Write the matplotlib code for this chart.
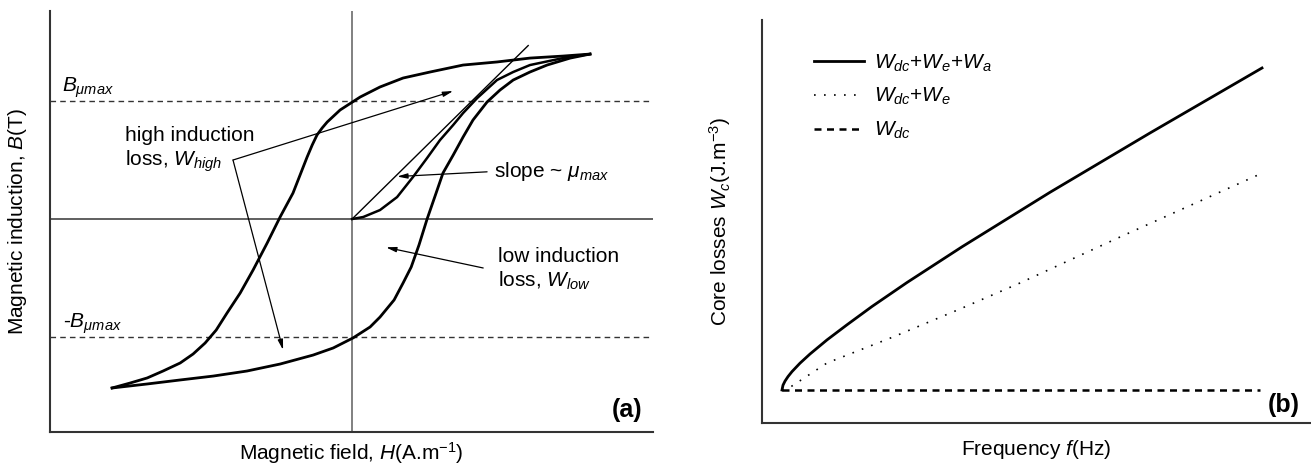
import matplotlib
matplotlib.use("Agg")
import matplotlib.pyplot as plt

plt.rcParams['font.family'] = ['Liberation Sans', 'DejaVu Sans']
plt.rcParams['mathtext.fontset'] = 'custom'
plt.rcParams['mathtext.rm'] = 'Liberation Sans'
plt.rcParams['mathtext.it'] = 'Liberation Sans:italic'
plt.rcParams['mathtext.bf'] = 'Liberation Sans:bold'

# (a) hysteresis loop, H in arbitrary units, B normalised to B_umax
upper_H = [7.93, 7.03, 5.93, 4.83, 3.70, 2.60, 1.70, 0.93, 0.27, -0.40, -0.83,
           -1.00, -1.17, -1.33, -1.50, -1.97, -2.40, -2.83, -3.30, -3.73, -4.17,
           -4.53, -4.90, -5.30, -5.73, -6.30, -6.83, -7.40, -8.00]
upper_B = [1.398, 1.381, 1.364, 1.331, 1.305, 1.246, 1.195, 1.119, 1.034, 0.924,
           0.822, 0.771, 0.712, 0.627, 0.525, 0.220, 0.017, -0.203, -0.432, -0.627,
           -0.797, -0.941, -1.051, -1.144, -1.220, -1.288, -1.347, -1.390, -1.432]
lower_H = [-8.00, -6.83, -5.73, -4.63, -3.50, -2.40, -1.30, -0.63, 0.03, 0.60,
           0.93, 1.40, 1.70, 1.97, 2.23, 2.50, 2.80, 3.03, 3.37, 3.70, 4.03,
           4.50, 4.93, 5.37, 5.93, 6.50, 7.27, 7.93]
lower_B = [-1.432, -1.398, -1.364, -1.331, -1.288, -1.229, -1.153, -1.093, -1.008,
           -0.915, -0.831, -0.686, -0.542, -0.407, -0.220, 0.000, 0.220, 0.390,
           0.542, 0.695, 0.839, 0.992, 1.093, 1.178, 1.246, 1.305, 1.364, 1.398]
init_H = [0.00, 0.37, 0.93, 1.50, 2.03, 2.50, 2.93, 3.37, 3.70, 4.17, 4.83,
          5.37, 5.93, 7.03, 7.93]
init_B = [0.000, 0.017, 0.076, 0.186, 0.356, 0.517, 0.669, 0.797, 0.898, 1.025,
          1.178, 1.246, 1.305, 1.364, 1.398]
slope_H = [0.00, 5.87]
slope_B = [0.00, 1.47]
B_umax = 1.0

# (b) core losses vs frequency (arbitrary units)
f_total = [3.65, 3.83, 4.20, 4.74, 5.47, 6.93, 8.76, 11.86, 15.51, 20.07, 26.46,
           36.50, 52.55, 70.80, 91.24]
W_total = [8.19, 9.38, 10.40, 11.51, 12.75, 14.84, 17.12, 20.62, 24.37, 28.91,
           34.86, 43.72, 57.24, 71.96, 88.09]
f_dce = [3.65, 5.47, 11.86, 23.91, 36.13, 47.08, 65.33, 90.51]
W_dce = [8.19, 9.18, 14.89, 21.34, 28.29, 34.74, 46.15, 61.54]
f_dc = [3.65, 90.9]
W_dc = [8.19, 8.19]

fig = plt.figure(figsize=(13.11, 4.67), dpi=100)
ax1 = fig.add_axes([0.03814, 0.07495, 0.45995, 0.90150])
ax2 = fig.add_axes([0.58124, 0.09422, 0.41800, 0.86296])

for ax in (ax1, ax2):
    for s in ('top', 'right'):
        ax.spines[s].set_visible(False)
    for s in ('left', 'bottom'):
        ax.spines[s].set_color('#333333')
        ax.spines[s].set_linewidth(1.5)
    ax.set_xticks([])
    ax.set_yticks([])

# ---- panel (a)
ax1.set_xlim(-10.07, 10.03)
ax1.set_ylim(-1.805, 1.763)
ax1.axvline(0, color='#808080', lw=1.4)
ax1.axhline(0, color='#444444', lw=1.2)
ax1.axhline(B_umax, color='#333333', lw=1.0, ls=(0, (4, 3)))
ax1.axhline(-B_umax, color='#333333', lw=1.0, ls=(0, (4, 3)))
ax1.plot(upper_H, upper_B, color='black', lw=2.0, solid_joinstyle='round')
ax1.plot(lower_H, lower_B, color='black', lw=2.0, solid_joinstyle='round')
ax1.plot(init_H, init_B, color='black', lw=1.8, solid_joinstyle='round')
ax1.plot(slope_H, slope_B, color='black', lw=1.0)

fs = 15
arr = dict(arrowstyle='-|>,head_length=0.6,head_width=0.15', lw=0.9,
           color='black', shrinkA=0, shrinkB=0)
ax1.text(-7.57, 0.585, 'high induction\nloss, $W_{high}$', fontsize=fs,
         va='center', ha='left')
ax1.annotate('', xy=(3.37, 1.085), xytext=(-3.97, 0.50), arrowprops=arr)
ax1.annotate('', xy=(-2.30, -1.11), xytext=(-3.97, 0.50), arrowprops=arr)
ax1.text(4.73, 0.40, r'slope ~ $\mu_{max}$', fontsize=fs, va='center', ha='left')
ax1.annotate('', xy=(1.5, 0.36), xytext=(4.5, 0.40), arrowprops=arr)
ax1.text(4.87, -0.43, 'low induction\nloss, $W_{low}$', fontsize=fs,
         va='center', ha='left')
ax1.annotate('', xy=(1.13, -0.24), xytext=(4.37, -0.415), arrowprops=arr)
ax1.text(-9.67, 1.01, r'$B_{\mu max}$', fontsize=fs, va='bottom', ha='left')
ax1.text(-9.63, -0.99, r'-$B_{\mu max}$', fontsize=fs, va='bottom', ha='left')
ax1.text(0.983, 0.052, '(a)', transform=ax1.transAxes, fontsize=18,
         fontweight='bold', ha='right', va='center')
ax1.set_xlabel(r'Magnetic field, $H$(A.m$^{-1}$)', fontsize=fs, labelpad=6)
ax1.set_ylabel(r'Magnetic induction, $B$(T)', fontsize=fs, labelpad=15)

# ---- panel (b)
ax2.set_xlim(0, 100)
ax2.set_ylim(0, 100)
ax2.plot(f_total, W_total, color='black', lw=2.0, solid_joinstyle='round',
         label=r'$W_{dc}$+$W_e$+$W_a$')
ax2.plot(f_dce, W_dce, color='black', lw=1.2, ls=(0, (1, 5)), label=r'$W_{dc}$+$W_e$')
ax2.plot(f_dc, W_dc, color='black', lw=1.8, ls=(0, (2.8, 2.2)), label=r'$W_{dc}$')
ax2.legend(loc='upper left', bbox_to_anchor=(0.095, 0.92), frameon=False,
           fontsize=fs, handlelength=2.4, handletextpad=0.5, borderpad=0,
           borderaxespad=0, labelspacing=0.6)
ax2.text(0.982, 0.045, '(b)', transform=ax2.transAxes, fontsize=18,
         fontweight='bold', ha='right', va='center')
ax2.set_xlabel(r'Frequency $f$(Hz)', fontsize=fs, labelpad=11)
ax2.set_ylabel(r'Core losses $W_c$(J.m$^{-3}$)', fontsize=fs, labelpad=21)

fig.savefig('out.png', dpi=100)
